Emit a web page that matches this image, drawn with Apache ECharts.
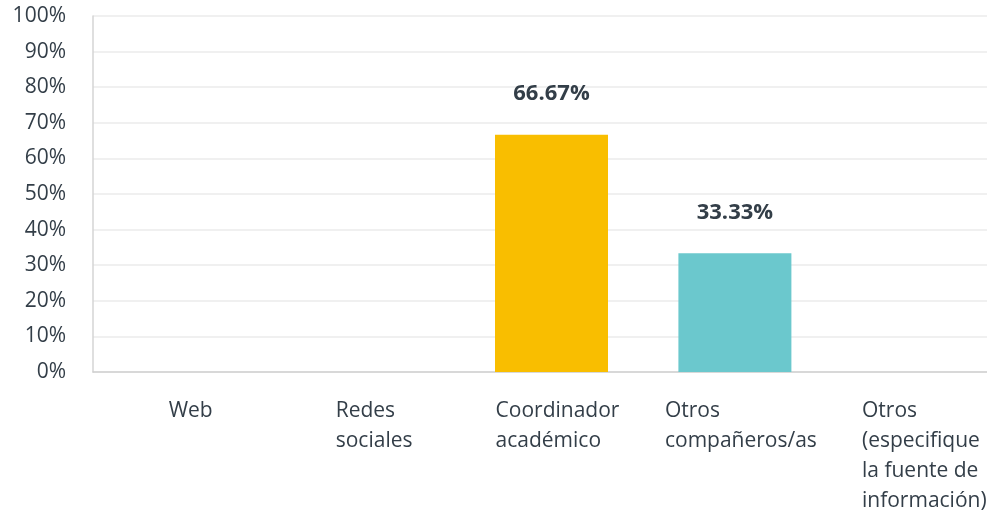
<!DOCTYPE html>
<html>
<head>
<meta charset="utf-8">
<script src="https://cdn.jsdelivr.net/npm/echarts@6/dist/echarts.min.js"></script>
<style>
  html, body { margin: 0; padding: 0; background: #fff; }
  #chart { width: 987px; height: 511px; }
</style>
</head>
<body>
<div id="chart"></div>
<script>
// datos
const categories = [
  'Web',
  'Redes\nsociales',
  'Coordinador\nacadémico',
  'Otros\ncompañeros/as',
  'Otros\n(especifique\nla fuente de\ninformación)'
];
const values = [0, 0, 66.67, 33.33, 0];
const barColors = ['#6BC8CD', '#F9BE00', '#F9BE00', '#6BC8CD', '#6BC8CD'];
const yTicks = [0, 100, 10]; // min, max, interval

const FONT = '"Open Sans", sans-serif';
const TEXT = '#333e48';

const chart = echarts.init(document.getElementById('chart'));

const option = {
  animation: false,
  grid: {
    left: 93, top: 16, width: 917, height: 356,
    containLabel: false,
    outerBoundsMode: 'none'
  },
  xAxis: {
    type: 'category',
    data: categories,
    axisLine: { lineStyle: { color: '#cfcfcf', width: 1.5 } },
    axisTick: { show: false },
    axisLabel: {
      interval: 0,
      margin: 24,
      align: 'center',
      padding: [0, 0, 0, 12],
      formatter: v => '{a|' + v + '}',
      rich: {
        a: {
          align: 'left',
          fontFamily: FONT,
          fontSize: 21,
          lineHeight: 30,
          color: TEXT
        }
      }
    }
  },
  yAxis: {
    type: 'value',
    min: yTicks[0],
    max: yTicks[1],
    interval: yTicks[2],
    axisLine: { show: true, lineStyle: { color: '#d4d4d4', width: 1.5 } },
    axisTick: { show: false },
    splitLine: { lineStyle: { color: '#ebebeb', width: 1.5 } },
    axisLabel: {
      formatter: '{value}%',
      margin: 27,
      padding: [5, 0, 0, 0],
      fontFamily: FONT,
      fontSize: 21,
      color: TEXT
    }
  },
  series: [
    {
      type: 'bar',
      barWidth: 113,
      data: values.map((v, i) => ({ value: v, itemStyle: { color: barColors[i] } })),
      label: {
        show: true,
        position: 'top',
        distance: 30,
        fontFamily: FONT,
        fontSize: 22,
        fontWeight: 'bold',
        color: TEXT,
        formatter: p => (p.value > 0 ? p.value.toFixed(2) + '%' : '')
      }
    }
  ]
};

chart.setOption(option);
</script>
</body>
</html>
